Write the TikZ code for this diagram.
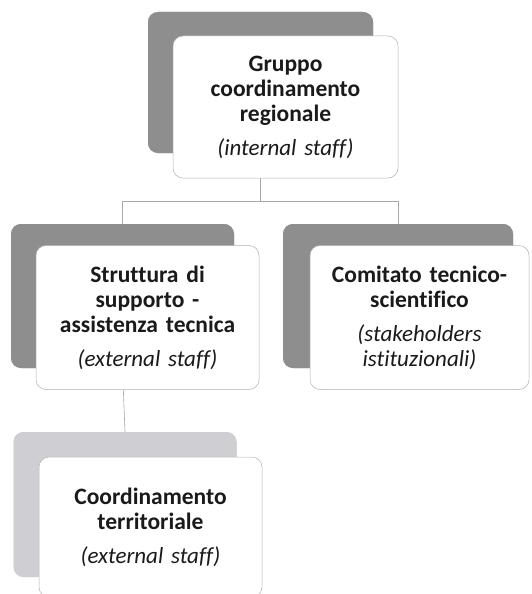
\documentclass[tikz,border=0pt]{standalone}
\usepackage{fontspec}
\setmainfont[Ligatures=NoCommon]{Carlito}
\definecolor{backgray}{HTML}{8E8E8E}
\definecolor{backlight}{HTML}{CFCFD3}
\definecolor{edgegray}{HTML}{B4B4B4}
\definecolor{linegray}{HTML}{A8A8A8}
\definecolor{txt}{HTML}{1A1A1A}
\newcommand{\subline}[1]{{\fontsize{23}{25}\selectfont\mdseries\itshape #1}}
\begin{document}
\begin{tikzpicture}[x=1pt,y=-1pt,
  backbox/.style={fill=backgray, rounded corners=10pt, inner sep=0pt, minimum width=223pt, minimum height=144pt},
  lightbox/.style={backbox, fill=backlight},
  frontbox/.style={fill=white, draw=edgegray, line width=0.5pt, rounded corners=10pt, inner sep=0pt,
     minimum width=223pt, minimum height=144pt, text width=215pt, align=center, text=txt,
     font=\fontsize{23.5}{25}\selectfont\bfseries},
  link/.style={draw=linegray, line width=0.6pt}
]
\useasboundingbox (0,0) rectangle (531,594);
% back shapes
\node[backbox, minimum width=225pt, minimum height=141pt] (g1) at (260.5,82.5) {};
\node[backbox]  (g2) at (122.5,296) {};
\node[backbox, minimum width=230pt]  (g3) at (398,296) {};
\node[lightbox, minimum height=145pt] (g4) at (125,504.5) {};
% connectors
\coordinate (j) at (260.5,201);
\draw[link] (g1.south) -- (g1.south |- j);
\draw[link] (g2.north) -- (g2.north |- j) -- (g3.north |- j) -- (g3.north);
\draw[link] (g2.south) -- (g4.north);
% redraw back shapes over connectors
\node[backbox, minimum width=225pt, minimum height=141pt] at (g1) {};
\node[backbox]  at (g2) {};
\node[backbox, minimum width=230pt] at (g3) {};
\node[lightbox, minimum height=145pt] at (g4) {};
% front boxes
\node[frontbox, minimum width=225pt, minimum height=142pt] (b1) at (285.5,107) {Gruppo\\coordinamento\\regionale\\[9pt]\subline{(internal staff)}};
\node[frontbox] (b2) at (147.5,317.5) {Struttura di\\supporto -\\assistenza tecnica\\[9pt]\subline{(external staff)}};
\node[frontbox, minimum width=219pt] (b3) at (419.5,317.5) {Comitato tecnico-\\scientifico\\[9pt]\subline{(stakeholders\\istituzionali)}};
\node[frontbox, minimum height=140pt] (b4) at (150.5,527) {Coordinamento\\territoriale\\[9pt]\subline{(external staff)}};
\end{tikzpicture}
\end{document}
